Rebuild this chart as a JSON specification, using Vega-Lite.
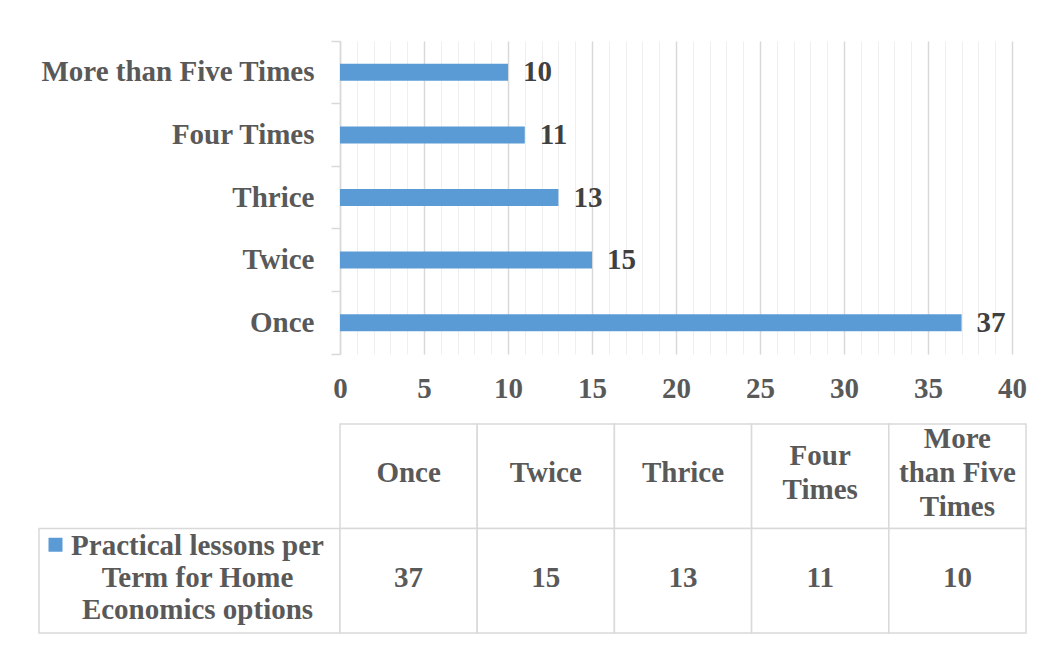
{
  "$schema": "https://vega.github.io/schema/vega-lite/v6.json",
  "background": "#ffffff",
  "padding": {"left": 38, "top": 40, "right": 0, "bottom": 0},
  "datasets": {
    "lessons": [
      {"frequency": "Once", "lessons": 37, "heading": "Once"},
      {"frequency": "Twice", "lessons": 15, "heading": "Twice"},
      {"frequency": "Thrice", "lessons": 13, "heading": "Thrice"},
      {"frequency": "Four Times", "lessons": 11, "heading": "Four\nTimes"},
      {"frequency": "More than Five Times", "lessons": 10, "heading": "More\nthan Five\nTimes"}
    ]
  },
  "columns": 2,
  "spacing": {"row": 70, "column": 0},
  "bounds": "flush",
  "concat": [
    {
      "width": 301,
      "height": 313,
      "data": {"values": [{}]},
      "mark": {"type": "rect", "opacity": 0}
    },
    {
      "width": 672,
      "height": 313,
      "data": {"name": "lessons"},
      "encoding": {
        "y": {
          "field": "frequency",
          "type": "nominal",
          "sort": ["More than Five Times", "Four Times", "Thrice", "Twice", "Once"],
          "scale": {"paddingInner": 0, "paddingOuter": 0},
          "axis": {
            "title": null,
            "labelFont": "Liberation Serif",
            "labelFontWeight": "bold",
            "labelFontSize": {"condition": {"test": "datum.extra", "value": 0}, "value": 29},
            "labelColor": "#595959",
            "labelLimit": 400,
            "labelPadding": 17,
            "tickSize": 9,
            "tickColor": "#d9d9d9",
            "tickWidth": 1.5,
            "bandPosition": 1,
            "tickExtra": true,
            "domainColor": "#d9d9d9",
            "domainWidth": 1.5,
            "grid": false
          }
        },
        "x": {
          "field": "lessons",
          "type": "quantitative",
          "scale": {"domain": [0, 40], "nice": false},
          "axis": {
            "title": null,
            "values": [0, 1, 2, 3, 4, 5, 6, 7, 8, 9, 10, 11, 12, 13, 14, 15, 16, 17, 18, 19, 20, 21, 22, 23, 24, 25, 26, 27, 28, 29, 30, 31, 32, 33, 34, 35, 36, 37, 38, 39, 40],
            "labelExpr": "datum.value % 5 === 0 ? datum.label : ''",
            "labelOverlap": false,
            "labelFlush": false,
            "labelFont": "Liberation Serif",
            "labelFontWeight": "bold",
            "labelFontSize": 29,
            "labelColor": "#595959",
            "labelPadding": 20,
            "ticks": false,
            "domain": false,
            "grid": true,
            "gridColor": {"condition": {"test": "datum.value % 5 === 0", "value": "#d9d9d9"}, "value": "#efefef"},
            "gridWidth": {"condition": {"test": "datum.value % 5 === 0", "value": 1.5}, "value": 1}
          }
        }
      },
      "layer": [
        {"mark": {"type": "bar", "color": "#5B9BD5", "height": 17}},
        {
          "mark": {
            "type": "text",
            "align": "left",
            "baseline": "middle",
            "dx": 15,
            "font": "Liberation Serif",
            "fontWeight": "bold",
            "fontSize": 29,
            "color": "#404040"
          },
          "encoding": {"text": {"field": "lessons", "type": "quantitative"}}
        }
      ]
    },
    {
      "width": 301,
      "height": 209,
      "data": {"values": [{"series": "Practical lessons per\nTerm for Home\nEconomics options"}]},
      "encoding": {
        "y": {
          "datum": "values",
          "type": "nominal",
          "scale": {"domain": ["header", "values"], "paddingInner": 0, "paddingOuter": 0},
          "axis": null
        }
      },
      "layer": [
        {"mark": {"type": "rect", "fill": "#ffffff", "stroke": "#d9d9d9", "strokeWidth": 1.5}},
        {
          "mark": {
            "type": "text",
            "lineBreak": "\n",
            "lineHeight": 32,
            "align": "center",
            "baseline": "middle",
            "dx": 8,
            "dy": -35,
            "font": "Liberation Serif",
            "fontWeight": "bold",
            "fontSize": 29,
            "color": "#595959"
          },
          "encoding": {"text": {"field": "series", "type": "nominal"}}
        },
        {
          "mark": {
            "type": "square",
            "filled": true,
            "opacity": 1,
            "color": "#5B9BD5",
            "size": 196,
            "xOffset": -134,
            "yOffset": -36
          }
        }
      ]
    },
    {
      "width": 686,
      "height": 209,
      "data": {"name": "lessons"},
      "encoding": {
        "x": {
          "field": "frequency",
          "type": "nominal",
          "sort": ["Once", "Twice", "Thrice", "Four Times", "More than Five Times"],
          "scale": {"paddingInner": 0, "paddingOuter": 0},
          "axis": null
        }
      },
      "layer": [
        {
          "mark": {"type": "rect", "fill": "#ffffff", "stroke": "#d9d9d9", "strokeWidth": 1.5},
          "encoding": {
            "y": {
              "datum": "header",
              "type": "nominal",
              "scale": {"domain": ["header", "values"], "paddingInner": 0, "paddingOuter": 0},
              "axis": null
            }
          }
        },
        {
          "mark": {"type": "rect", "fill": "#ffffff", "stroke": "#d9d9d9", "strokeWidth": 1.5},
          "encoding": {"y": {"datum": "values", "type": "nominal"}}
        },
        {
          "mark": {
            "type": "text",
            "lineBreak": "\n",
            "lineHeight": 34,
            "align": "center",
            "baseline": "middle",
            "dy": {"expr": "-3 - 17 * (length(split(datum.heading, '\\n')) - 1)"},
            "font": "Liberation Serif",
            "fontWeight": "bold",
            "fontSize": 29,
            "color": "#595959"
          },
          "encoding": {
            "y": {"datum": "header", "type": "nominal"},
            "text": {"field": "heading", "type": "nominal"}
          }
        },
        {
          "mark": {
            "type": "text",
            "align": "center",
            "baseline": "middle",
            "dy": -3,
            "font": "Liberation Serif",
            "fontWeight": "bold",
            "fontSize": 29,
            "color": "#595959"
          },
          "encoding": {
            "y": {"datum": "values", "type": "nominal"},
            "text": {"field": "lessons", "type": "quantitative"}
          }
        }
      ]
    }
  ],
  "config": {
    "view": {"stroke": null},
    "font": "Liberation Serif"
  }
}
